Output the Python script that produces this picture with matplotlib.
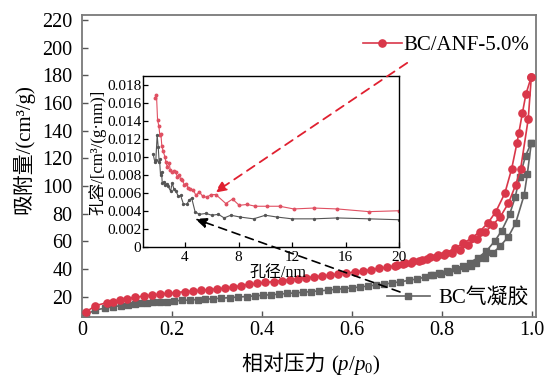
import matplotlib
matplotlib.use('Agg')
import matplotlib.pyplot as plt
from matplotlib.offsetbox import TextArea, HPacker, AnchoredOffsetbox
from matplotlib.ticker import FixedLocator, FuncFormatter

plt.rcParams['font.family'] = ['Liberation Serif', 'Noto Sans CJK SC']
plt.rcParams['mathtext.fontset'] = 'custom'
plt.rcParams['mathtext.rm'] = 'Liberation Serif'
plt.rcParams['mathtext.it'] = 'Liberation Serif:italic'

# ---------------- data: N2 isotherms ----------------
red_ads_p = [0.007, 0.029, 0.054, 0.068, 0.083, 0.100, 0.118, 0.136, 0.154, 0.172,
             0.190, 0.209, 0.227, 0.245, 0.263, 0.281, 0.299, 0.317, 0.335, 0.353,
             0.371, 0.389, 0.407, 0.425, 0.443, 0.461, 0.479, 0.497, 0.515, 0.533,
             0.551, 0.569, 0.587, 0.605, 0.623, 0.641, 0.659, 0.677, 0.695, 0.713,
             0.731, 0.749, 0.767, 0.785, 0.803, 0.821, 0.839, 0.857, 0.877, 0.894,
             0.912, 0.929, 0.947, 0.963, 0.974, 0.991, 0.998]
red_ads_v = [8.7, 13.5, 15.6, 16.5, 17.3, 18.6, 19.6, 20.4, 21.1, 21.8,
             22.4, 23.0, 23.6, 24.1, 24.6, 25.1, 25.6, 26.2, 27.0, 28.0,
             28.9, 29.6, 30.3, 30.9, 31.6, 32.3, 33.0, 33.7, 34.3, 35.0,
             35.6, 36.3, 37.0, 37.8, 38.6, 39.5, 40.4, 41.3, 42.3, 43.4,
             44.6, 45.8, 47.1, 48.5, 50.0, 51.8, 54.0, 57.0, 61.5, 66.5,
             71.8, 77.8, 87.5, 100.7, 112.1, 148.3, 179.1]
red_des_p = [0.998, 0.986, 0.978, 0.970, 0.966, 0.954, 0.939, 0.919, 0.902, 0.883,
             0.865, 0.846, 0.828, 0.809, 0.791, 0.772, 0.754, 0.736, 0.718, 0.700]
red_des_v = [179.1, 166.5, 152.6, 138.1, 131.0, 112.1, 94.7, 81.4, 73.5, 67.0,
             62.2, 58.6, 55.0, 51.8, 50.1, 48.5, 46.8, 45.5, 44.3, 43.2]

grey_ads_p = [0.007, 0.028, 0.050, 0.068, 0.085, 0.101, 0.117, 0.130, 0.143, 0.158,
              0.173, 0.187, 0.204, 0.221, 0.239, 0.256, 0.273, 0.291, 0.309, 0.327,
              0.345, 0.365, 0.383, 0.401, 0.419, 0.437, 0.455, 0.473, 0.491, 0.509,
              0.527, 0.545, 0.563, 0.581, 0.599, 0.617, 0.635, 0.653, 0.671, 0.689,
              0.707, 0.725, 0.743, 0.761, 0.779, 0.797, 0.815, 0.833, 0.850, 0.863,
              0.876, 0.894, 0.913, 0.929, 0.947, 0.963, 0.982, 0.989, 0.998]
grey_ads_v = [6.7, 10.4, 11.6, 12.7, 13.5, 14.1, 14.7, 15.1, 15.6, 15.9,
              16.2, 16.5, 16.9, 17.3, 17.6, 17.9, 18.2, 18.5, 18.9, 19.3,
              19.7, 20.1, 20.6, 21.0, 21.4, 21.8, 22.3, 22.7, 23.2, 23.7,
              24.2, 24.7, 25.3, 25.8, 26.4, 27.0, 27.7, 28.4, 29.1, 29.9,
              30.8, 31.7, 32.8, 34.0, 35.3, 36.3, 37.5, 39.0, 41.0, 42.5,
              44.1, 47.7, 51.8, 56.6, 63.4, 73.1, 93.5, 108.7, 131.3]
grey_des_p = [0.998, 0.985, 0.972, 0.962, 0.950, 0.932, 0.917, 0.898, 0.880, 0.861,
              0.845, 0.828, 0.810, 0.792, 0.774]
grey_des_v = [131.3, 121.7, 106.3, 91.9, 79.8, 67.7, 60.3, 53.0, 48.2, 44.6,
              42.2, 40.5, 38.9, 37.3, 35.9]

# ---------------- data: pore size distribution (inset) ----------------
red_psd_d = [1.75, 1.87, 1.95, 2.05, 2.12, 2.20, 2.27, 2.37, 2.50, 2.57,
             2.67, 2.82, 2.90, 3.05, 3.20, 3.30, 3.42, 3.57, 3.67, 3.80,
             3.95, 4.10, 4.25, 4.40, 4.62, 4.82, 5.07, 5.32, 5.62, 5.95,
             6.30, 7.05, 7.55, 8.05, 8.63, 9.25, 10.13, 11.07, 12.12, 13.62,
             15.37, 17.75, 20.0]
red_psd_v = [0.0165, 0.0169, 0.0141, 0.0134, 0.0124, 0.0125, 0.0112, 0.0106, 0.0100, 0.0094,
             0.0089, 0.0093, 0.0085, 0.0083, 0.0084, 0.0083, 0.0078, 0.0080, 0.0075, 0.0074,
             0.0069, 0.0070, 0.0065, 0.0064, 0.0063, 0.0057, 0.0061, 0.0056, 0.0055, 0.0058,
             0.0058, 0.0048, 0.0053, 0.0046, 0.0047, 0.0045, 0.0045, 0.0045, 0.0042, 0.0043,
             0.0042, 0.0039, 0.0040]
grey_psd_d = [1.62, 1.75, 1.82, 1.92, 2.00, 2.07, 2.10, 2.17, 2.25, 2.30,
              2.42, 2.52, 2.62, 2.75, 2.92, 3.05, 3.17, 3.32, 3.50, 3.67,
              3.87, 4.12, 4.32, 4.50, 4.75, 5.07, 5.57, 6.00, 6.50, 6.92,
              7.42, 8.12, 9.12, 10.0, 10.87, 12.0, 13.62, 15.37, 17.75, 20.0]
grey_psd_v = [0.0103, 0.0094, 0.0096, 0.0124, 0.0111, 0.0094, 0.0097, 0.0080, 0.0083, 0.0071,
              0.0072, 0.0069, 0.0070, 0.0067, 0.0062, 0.0071, 0.0064, 0.0062, 0.0056, 0.0057,
              0.0048, 0.0047, 0.0052, 0.0054, 0.0039, 0.0036, 0.0037, 0.0035, 0.0036, 0.0032,
              0.0035, 0.0033, 0.0031, 0.0035, 0.0033, 0.0031, 0.0031, 0.0032, 0.0031, 0.0030]

label_red = 'BC/ANF-5.0%'
label_grey = 'BC气凝胶'
main_xticks = [0, 0.2, 0.4, 0.6, 0.8, 1.0]
main_yticks = [20, 40, 60, 80, 100, 120, 140, 160, 180, 200, 220]
inset_xticks = [4, 8, 12, 16, 20]
inset_yticks = [0, 0.002, 0.004, 0.006, 0.008, 0.010, 0.012, 0.014, 0.016, 0.018]

RED = '#d9374a'
GREY = '#646464'
RED_IN = '#e05062'
GREY_IN = '#555555'

fig = plt.figure(figsize=(5.53, 3.79), dpi=100)
ax = fig.add_axes([0.149, 0.1636, 0.820, 0.7968])

l_red, = ax.plot(red_ads_p, red_ads_v, '-o', color=RED, ms=5.2, lw=1.2, label=label_red, zorder=3)
ax.plot(red_des_p, red_des_v, '-o', color=RED, ms=5.2, lw=1.2, zorder=3)
l_grey, = ax.plot(grey_ads_p, grey_ads_v, '-s', color=GREY, ms=4.6, lw=1.2, label=label_grey, zorder=2)
ax.plot(grey_des_p, grey_des_v, '-s', color=GREY, ms=4.6, lw=1.2, zorder=2)

ax.set_xlim(0, 1.008)
ax.set_ylim(5.3, 223.6)
ax.set_xticks(main_xticks)
ax.set_xticklabels(['0', '0.2', '0.4', '0.6', '0.8', '1.0'])
ax.set_yticks(main_yticks)
ax.tick_params(direction='in', length=4, width=1, labelsize=14.5, color='#555555')
ax.tick_params(axis='y', pad=7)
ax.tick_params(axis='x', pad=3)
for s in ax.spines.values():
    s.set_color('#7a7a7a')
    s.set_linewidth(1.3)

ax.set_ylabel('吸附量/(cm³/g)', fontsize=15)
ax.yaxis.set_label_coords(-0.105, 0.556)

xl = HPacker(children=[TextArea('相对压力 ', textprops=dict(fontsize=15)),
                       TextArea(r'($\mathit{p}$/$\mathit{p}_0$)', textprops=dict(fontsize=15))],
             align='baseline', pad=0, sep=0)
ab = AnchoredOffsetbox(loc='upper center', child=xl, pad=0, borderpad=0, frameon=False,
                       bbox_to_anchor=(0.504, -0.12), bbox_transform=ax.transAxes)
ax.add_artist(ab)

leg1 = ax.legend(handles=[l_red], loc='center right', bbox_to_anchor=(0.985, 0.90),
                 frameon=False, fontsize=15, handlelength=1.9, handletextpad=0.05,
                 borderaxespad=0, borderpad=0, numpoints=1)
ax.add_artist(leg1)
ax.legend(handles=[l_grey], loc='center right', bbox_to_anchor=(0.985, 0.063),
          frameon=False, fontsize=15, handlelength=2.1, handletextpad=0.4,
          borderaxespad=0, borderpad=0, numpoints=1)

# ---------------- inset ----------------
axins = fig.add_axes([0.259, 0.349, 0.463, 0.451])
axins.plot(red_psd_d, red_psd_v, '-o', color=RED_IN, ms=1.8, lw=0.8)
axins.plot(grey_psd_d, grey_psd_v, '-o', color=GREY_IN, ms=1.4, lw=0.8)
axins.set_xlim(0.88, 20)
axins.set_ylim(0, 0.019)
axins.xaxis.set_major_locator(FixedLocator(inset_xticks))
axins.yaxis.set_major_locator(FixedLocator(inset_yticks))
axins.yaxis.set_major_formatter(FuncFormatter(lambda v, p: '0' if abs(v) < 1e-9 else f'{v:.3f}'))
axins.tick_params(direction='in', length=3.5, width=0.9, labelsize=11)
axins.tick_params(axis='y', pad=1.5)
axins.tick_params(axis='x', pad=3)
for s in axins.spines.values():
    s.set_color('black')
    s.set_linewidth(1.0)
axins.set_ylabel('孔容/[cm³/(g·nm)]', fontsize=12)
axins.yaxis.set_label_coords(-0.145, 0.551)
axins.set_xlabel('孔径/nm', fontsize=11.5)
axins.xaxis.set_label_coords(0.528, -0.105)

# ---------------- arrows ----------------
axins.annotate('', xy=(6.2, 0.0060), xycoords=axins.transData,
               xytext=(0.722, 189), textcoords=ax.transData,
               arrowprops=dict(arrowstyle='-|>,head_length=0.7,head_width=0.3',
                               color='#e02030', lw=1.3, linestyle=(0, (5, 3.5)),
                               shrinkA=0, shrinkB=0),
               annotation_clip=False)
axins.annotate('', xy=(4.75, 0.0031), xycoords=axins.transData,
               xytext=(0.706, 23.4), textcoords=ax.transData,
               arrowprops=dict(arrowstyle='-|>,head_length=0.7,head_width=0.3',
                               color='black', lw=1.2, linestyle=(0, (5, 3.5)),
                               shrinkA=0, shrinkB=0),
               annotation_clip=False)

fig.savefig('out.png', dpi=100)
